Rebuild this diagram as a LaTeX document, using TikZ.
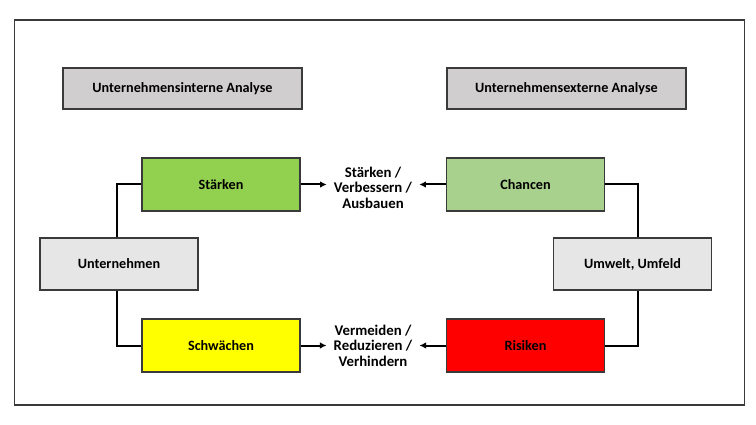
\documentclass[tikz,border=0pt]{standalone}
\usepackage{fontspec}
\setmainfont{Carlito}
\usetikzlibrary{arrows.meta}
\definecolor{hdrgrey}{HTML}{D0CECE}
\definecolor{lightgrey}{HTML}{E7E6E6}
\definecolor{strgreen}{HTML}{92D050}
\definecolor{chgreen}{HTML}{A9D18E}
\definecolor{wkyellow}{HTML}{FFFF00}
\definecolor{rkred}{HTML}{FF0000}
\definecolor{edge}{HTML}{3A3A3A}
\tikzset{
  box/.style={draw=edge, line width=1.3pt, minimum width=158pt, minimum height=53pt,
    inner sep=0pt, font=\bfseries\fontsize{14.2}{15.5}\selectfont, text=black},
  hdr/.style={box, fill=hdrgrey, minimum width=239pt, minimum height=41pt},
  midtext/.style={align=center, inner sep=7pt, font=\bfseries\fontsize{14.8}{15.5}\selectfont},
  conn/.style={line width=2pt, black},
  arr/.style={line width=2pt, black, -{Latex[length=6.5pt,width=6.5pt]}}
}
\begin{document}
\begin{tikzpicture}[x=1pt,y=-1pt]
\useasboundingbox (0,0) rectangle (756,425);
\fill[white] (0,0) rectangle (756,425);
\draw[edge, line width=1.5pt] (14.5,20) rectangle (744.5,405);
\node[hdr] (hl) at (182.5,88.5) {Unternehmensinterne Analyse};
\node[hdr] (hr) at (566.5,88.5) {Unternehmensexterne Analyse};
\node[box, fill=strgreen] (st) at (221,184.5) {Stärken};
\node[box, fill=chgreen] (ch) at (525.5,184.5) {Chancen};
\node[box, fill=wkyellow] (sw) at (221,345.5) {Schwächen};
\node[box, fill=rkred] (ri) at (525.5,345.5) {Risiken};
\node[box, fill=lightgrey, minimum height=52pt] (un) at (119,264) {Unternehmen};
\node[box, fill=lightgrey, minimum height=52pt] (um) at (632.5,264) {Umwelt, Umfeld};
\node[midtext] (m1) at (373,187.5) {Stärken /\\Verbessern /\\Ausbauen};
\node[midtext] (m2) at (373,345.5) {Vermeiden /\\Reduzieren /\\Verhindern};
\draw[conn] ([xshift=-2pt]un.north) |- (st.west);
\draw[conn] ([xshift=-2pt]un.south) |- (sw.west);
\draw[conn] ([xshift=5pt]um.north) |- (ch.east);
\draw[conn] ([xshift=5pt]um.south) |- (ri.east);
\draw[arr] (st.east) -- (st.east -| m1.west);
\draw[arr] (ch.west) -- (ch.west -| m1.east);
\draw[arr] (sw.east) -- (sw.east -| m2.west);
\draw[arr] (ri.west) -- (ri.west -| m2.east);
\end{tikzpicture}
\end{document}
